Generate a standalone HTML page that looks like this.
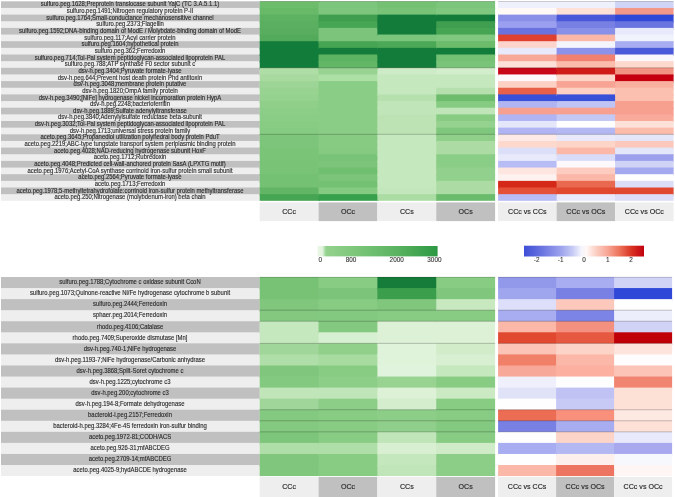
<!DOCTYPE html><html><head><meta charset="utf-8"><style>html,body{margin:0;padding:0;background:#fff;width:675px;height:497px;overflow:hidden}svg{display:block}text{font-family:"Liberation Sans",sans-serif}</style></head><body>
<svg width="675" height="497" viewBox="0 0 675 497">
<defs><filter id="tb" filterUnits="userSpaceOnUse" x="0" y="0" width="675" height="497"><feGaussianBlur stdDeviation="0.28"/></filter></defs>
<rect x="0" y="0" width="675" height="497" fill="#fff"/>
<rect x="1.0" y="1.30" width="258.80" height="8.15" fill="#c0c0c0"/>
<rect x="1.0" y="7.95" width="258.80" height="8.15" fill="#eeeeee"/>
<rect x="1.0" y="14.60" width="258.80" height="8.15" fill="#c0c0c0"/>
<rect x="1.0" y="21.25" width="258.80" height="8.15" fill="#eeeeee"/>
<rect x="1.0" y="27.90" width="258.80" height="8.15" fill="#c0c0c0"/>
<rect x="1.0" y="34.55" width="258.80" height="8.15" fill="#eeeeee"/>
<rect x="1.0" y="41.20" width="258.80" height="8.15" fill="#c0c0c0"/>
<rect x="1.0" y="47.85" width="258.80" height="8.15" fill="#eeeeee"/>
<rect x="1.0" y="54.50" width="258.80" height="8.15" fill="#c0c0c0"/>
<rect x="1.0" y="61.15" width="258.80" height="8.15" fill="#eeeeee"/>
<rect x="1.0" y="67.80" width="258.80" height="8.15" fill="#c0c0c0"/>
<rect x="1.0" y="74.45" width="258.80" height="8.15" fill="#eeeeee"/>
<rect x="1.0" y="81.10" width="258.80" height="8.15" fill="#c0c0c0"/>
<rect x="1.0" y="87.75" width="258.80" height="8.15" fill="#eeeeee"/>
<rect x="1.0" y="94.40" width="258.80" height="8.15" fill="#c0c0c0"/>
<rect x="1.0" y="101.05" width="258.80" height="8.15" fill="#eeeeee"/>
<rect x="1.0" y="107.70" width="258.80" height="8.15" fill="#c0c0c0"/>
<rect x="1.0" y="114.35" width="258.80" height="8.15" fill="#eeeeee"/>
<rect x="1.0" y="121.00" width="258.80" height="8.15" fill="#c0c0c0"/>
<rect x="1.0" y="127.65" width="258.80" height="8.15" fill="#eeeeee"/>
<rect x="1.0" y="134.30" width="258.80" height="8.15" fill="#c0c0c0"/>
<rect x="1.0" y="140.95" width="258.80" height="8.15" fill="#eeeeee"/>
<rect x="1.0" y="147.60" width="258.80" height="8.15" fill="#c0c0c0"/>
<rect x="1.0" y="154.25" width="258.80" height="8.15" fill="#eeeeee"/>
<rect x="1.0" y="160.90" width="258.80" height="8.15" fill="#c0c0c0"/>
<rect x="1.0" y="167.55" width="258.80" height="8.15" fill="#eeeeee"/>
<rect x="1.0" y="174.20" width="258.80" height="8.15" fill="#c0c0c0"/>
<rect x="1.0" y="180.85" width="258.80" height="8.15" fill="#eeeeee"/>
<rect x="1.0" y="187.50" width="258.80" height="8.15" fill="#c0c0c0"/>
<rect x="1.0" y="194.15" width="258.80" height="6.65" fill="#eeeeee"/>
<g filter="url(#tb)">
<text transform="translate(130.0 6.40) scale(1 1.08)" x="0" y="0" font-size="5.93" fill="#2a2a2a" stroke="#2a2a2a" stroke-width="0.12" text-anchor="middle">sulfuro.peg.1628;Preprotein translocase subunit YajC (TC 3.A.5.1.1)</text>
<text transform="translate(130.0 13.05) scale(1 1.08)" x="0" y="0" font-size="5.93" fill="#2a2a2a" stroke="#2a2a2a" stroke-width="0.12" text-anchor="middle">sulfuro.peg.1491;Nitrogen regulatory protein P-II</text>
<text transform="translate(130.0 19.70) scale(1 1.08)" x="0" y="0" font-size="5.93" fill="#2a2a2a" stroke="#2a2a2a" stroke-width="0.12" text-anchor="middle">sulfuro.peg.1764;Small-conductance mechanosensitive channel</text>
<text transform="translate(130.0 26.35) scale(1 1.08)" x="0" y="0" font-size="5.93" fill="#2a2a2a" stroke="#2a2a2a" stroke-width="0.12" text-anchor="middle">sulfuro.peg.2373;Flagellin</text>
<text transform="translate(130.0 33.00) scale(1 1.08)" x="0" y="0" font-size="5.93" fill="#2a2a2a" stroke="#2a2a2a" stroke-width="0.12" text-anchor="middle">sulfuro.peg.1592;DNA-binding domain of ModE / Molybdate-binding domain of ModE</text>
<text transform="translate(130.0 39.65) scale(1 1.08)" x="0" y="0" font-size="5.93" fill="#2a2a2a" stroke="#2a2a2a" stroke-width="0.12" text-anchor="middle">sulfuro.peg.117;Acyl carrier protein</text>
<text transform="translate(130.0 46.30) scale(1 1.08)" x="0" y="0" font-size="5.93" fill="#2a2a2a" stroke="#2a2a2a" stroke-width="0.12" text-anchor="middle">sulfuro.peg.1604;hypothetical protein</text>
<text transform="translate(130.0 52.95) scale(1 1.08)" x="0" y="0" font-size="5.93" fill="#2a2a2a" stroke="#2a2a2a" stroke-width="0.12" text-anchor="middle">sulfuro.peg.362;Ferredoxin</text>
<text transform="translate(130.0 59.60) scale(1 1.08)" x="0" y="0" font-size="5.93" fill="#2a2a2a" stroke="#2a2a2a" stroke-width="0.12" text-anchor="middle">sulfuro.peg.714;Tol-Pal system peptidoglycan-associated lipoprotein PAL</text>
<text transform="translate(130.0 66.25) scale(1 1.08)" x="0" y="0" font-size="5.93" fill="#2a2a2a" stroke="#2a2a2a" stroke-width="0.12" text-anchor="middle">sulfuro.peg.788;ATP synthase F0 sector subunit c</text>
<text transform="translate(130.0 72.90) scale(1 1.08)" x="0" y="0" font-size="5.93" fill="#2a2a2a" stroke="#2a2a2a" stroke-width="0.12" text-anchor="middle">dsv-h.peg.3404;Pyruvate formate-lyase</text>
<text transform="translate(130.0 79.55) scale(1 1.08)" x="0" y="0" font-size="5.93" fill="#2a2a2a" stroke="#2a2a2a" stroke-width="0.12" text-anchor="middle">dsv-h.peg.644;Prevent host death protein Phd antitoxin</text>
<text transform="translate(130.0 86.20) scale(1 1.08)" x="0" y="0" font-size="5.93" fill="#2a2a2a" stroke="#2a2a2a" stroke-width="0.12" text-anchor="middle">dsv-h.peg.3048;membrane protein putative</text>
<text transform="translate(130.0 92.85) scale(1 1.08)" x="0" y="0" font-size="5.93" fill="#2a2a2a" stroke="#2a2a2a" stroke-width="0.12" text-anchor="middle">dsv-h.peg.1820;OmpA family protein</text>
<text transform="translate(130.0 99.50) scale(1 1.08)" x="0" y="0" font-size="5.93" fill="#2a2a2a" stroke="#2a2a2a" stroke-width="0.12" text-anchor="middle">dsv-h.peg.3490;[NiFe] hydrogenase nickel incorporation protein HypA</text>
<text transform="translate(130.0 106.15) scale(1 1.08)" x="0" y="0" font-size="5.93" fill="#2a2a2a" stroke="#2a2a2a" stroke-width="0.12" text-anchor="middle">dsv-h.peg.2248;bacterioferritin</text>
<text transform="translate(130.0 112.80) scale(1 1.08)" x="0" y="0" font-size="5.93" fill="#2a2a2a" stroke="#2a2a2a" stroke-width="0.12" text-anchor="middle">dsv-h.peg.1889;Sulfate adenylyltransferase</text>
<text transform="translate(130.0 119.45) scale(1 1.08)" x="0" y="0" font-size="5.93" fill="#2a2a2a" stroke="#2a2a2a" stroke-width="0.12" text-anchor="middle">dsv-h.peg.3840;Adenylylsulfate reductase beta-subunit</text>
<text transform="translate(130.0 126.10) scale(1 1.08)" x="0" y="0" font-size="5.93" fill="#2a2a2a" stroke="#2a2a2a" stroke-width="0.12" text-anchor="middle">dsv-h.peg.3032;Tol-Pal system peptidoglycan-associated lipoprotein PAL</text>
<text transform="translate(130.0 132.75) scale(1 1.08)" x="0" y="0" font-size="5.93" fill="#2a2a2a" stroke="#2a2a2a" stroke-width="0.12" text-anchor="middle">dsv-h.peg.1713;universal stress protein family</text>
<text transform="translate(130.0 139.40) scale(1 1.08)" x="0" y="0" font-size="5.93" fill="#2a2a2a" stroke="#2a2a2a" stroke-width="0.12" text-anchor="middle">aceto.peg.3645;Propanediol utilization polyhedral body protein PduT</text>
<text transform="translate(130.0 146.05) scale(1 1.08)" x="0" y="0" font-size="5.93" fill="#2a2a2a" stroke="#2a2a2a" stroke-width="0.12" text-anchor="middle">aceto.peg.2219;ABC-type tungstate transport system periplasmic binding protein</text>
<text transform="translate(130.0 152.70) scale(1 1.08)" x="0" y="0" font-size="5.93" fill="#2a2a2a" stroke="#2a2a2a" stroke-width="0.12" text-anchor="middle">aceto.peg.4028;NAD-reducing hydrogenase subunit HoxF</text>
<text transform="translate(130.0 159.35) scale(1 1.08)" x="0" y="0" font-size="5.93" fill="#2a2a2a" stroke="#2a2a2a" stroke-width="0.12" text-anchor="middle">aceto.peg.1712;Rubredoxin</text>
<text transform="translate(130.0 166.00) scale(1 1.08)" x="0" y="0" font-size="5.93" fill="#2a2a2a" stroke="#2a2a2a" stroke-width="0.12" text-anchor="middle">aceto.peg.4048;Predicted cell-wall-anchored protein SasA (LPXTG motif)</text>
<text transform="translate(130.0 172.65) scale(1 1.08)" x="0" y="0" font-size="5.93" fill="#2a2a2a" stroke="#2a2a2a" stroke-width="0.12" text-anchor="middle">aceto.peg.1976;Acetyl-CoA synthase corrinoid iron-sulfur protein small subunit</text>
<text transform="translate(130.0 179.30) scale(1 1.08)" x="0" y="0" font-size="5.93" fill="#2a2a2a" stroke="#2a2a2a" stroke-width="0.12" text-anchor="middle">aceto.peg.2564;Pyruvate formate-lyase</text>
<text transform="translate(130.0 185.95) scale(1 1.08)" x="0" y="0" font-size="5.93" fill="#2a2a2a" stroke="#2a2a2a" stroke-width="0.12" text-anchor="middle">aceto.peg.1713;Ferredoxin</text>
<text transform="translate(130.0 192.60) scale(1 1.08)" x="0" y="0" font-size="5.93" fill="#2a2a2a" stroke="#2a2a2a" stroke-width="0.12" text-anchor="middle">aceto.peg.1978;5-methyltetrahydrofolate:corrinoid iron-sulfur protein methyltransferase</text>
<text transform="translate(130.0 199.25) scale(1 1.08)" x="0" y="0" font-size="5.93" fill="#2a2a2a" stroke="#2a2a2a" stroke-width="0.12" text-anchor="middle">aceto.peg.250;Nitrogenase (molybdenum-iron) beta chain</text>
</g>
<rect x="259.70" y="1.30" width="60.35" height="8.15" fill="#6cbc6c"/>
<rect x="259.70" y="7.95" width="60.35" height="8.15" fill="#68ba69"/>
<rect x="259.70" y="14.60" width="60.35" height="8.15" fill="#5cb261"/>
<rect x="259.70" y="21.25" width="60.35" height="8.15" fill="#5ab060"/>
<rect x="259.70" y="27.90" width="60.35" height="8.15" fill="#58ae5e"/>
<rect x="259.70" y="34.55" width="60.35" height="8.15" fill="#52aa5a"/>
<rect x="259.70" y="41.20" width="60.35" height="8.15" fill="#127d3b"/>
<rect x="259.70" y="47.85" width="60.35" height="8.15" fill="#127d3b"/>
<rect x="259.70" y="54.50" width="60.35" height="8.15" fill="#127d3b"/>
<rect x="259.70" y="61.15" width="60.35" height="8.15" fill="#127d3b"/>
<rect x="259.70" y="67.80" width="60.35" height="8.15" fill="#aedda6"/>
<rect x="259.70" y="74.45" width="60.35" height="8.15" fill="#a8daa0"/>
<rect x="259.70" y="81.10" width="60.35" height="8.15" fill="#9dd596"/>
<rect x="259.70" y="87.75" width="60.35" height="8.15" fill="#98d391"/>
<rect x="259.70" y="94.40" width="60.35" height="8.15" fill="#96d28f"/>
<rect x="259.70" y="101.05" width="60.35" height="8.15" fill="#8fcf8a"/>
<rect x="259.70" y="107.70" width="60.35" height="8.15" fill="#8ccd87"/>
<rect x="259.70" y="114.35" width="60.35" height="8.15" fill="#8acd86"/>
<rect x="259.70" y="121.00" width="60.35" height="8.15" fill="#88cc84"/>
<rect x="259.70" y="127.65" width="60.35" height="8.15" fill="#86cb82"/>
<rect x="259.70" y="134.30" width="60.35" height="8.15" fill="#7cc57a"/>
<rect x="259.70" y="140.95" width="60.35" height="8.15" fill="#7cc57a"/>
<rect x="259.70" y="147.60" width="60.35" height="8.15" fill="#7ac478"/>
<rect x="259.70" y="154.25" width="60.35" height="8.15" fill="#7ac478"/>
<rect x="259.70" y="160.90" width="60.35" height="8.15" fill="#78c376"/>
<rect x="259.70" y="167.55" width="60.35" height="8.15" fill="#78c376"/>
<rect x="259.70" y="174.20" width="60.35" height="8.15" fill="#74c173"/>
<rect x="259.70" y="180.85" width="60.35" height="8.15" fill="#74c173"/>
<rect x="259.70" y="187.50" width="60.35" height="8.15" fill="#62b565"/>
<rect x="259.70" y="194.15" width="60.35" height="6.65" fill="#45a552"/>
<rect x="318.55" y="1.30" width="60.35" height="8.15" fill="#7cc57c"/>
<rect x="318.55" y="7.95" width="60.35" height="8.15" fill="#7ec67e"/>
<rect x="318.55" y="14.60" width="60.35" height="8.15" fill="#3e9d4e"/>
<rect x="318.55" y="21.25" width="60.35" height="8.15" fill="#46a653"/>
<rect x="318.55" y="27.90" width="60.35" height="8.15" fill="#7cc47c"/>
<rect x="318.55" y="34.55" width="60.35" height="8.15" fill="#7cc47c"/>
<rect x="318.55" y="41.20" width="60.35" height="8.15" fill="#46a553"/>
<rect x="318.55" y="47.85" width="60.35" height="8.15" fill="#137c3a"/>
<rect x="318.55" y="54.50" width="60.35" height="8.15" fill="#5cb362"/>
<rect x="318.55" y="61.15" width="60.35" height="8.15" fill="#62b666"/>
<rect x="318.55" y="67.80" width="60.35" height="8.15" fill="#98d392"/>
<rect x="318.55" y="74.45" width="60.35" height="8.15" fill="#ade0a5"/>
<rect x="318.55" y="81.10" width="60.35" height="8.15" fill="#8acd86"/>
<rect x="318.55" y="87.75" width="60.35" height="8.15" fill="#8acd86"/>
<rect x="318.55" y="94.40" width="60.35" height="8.15" fill="#8acd86"/>
<rect x="318.55" y="101.05" width="60.35" height="8.15" fill="#8acd86"/>
<rect x="318.55" y="107.70" width="60.35" height="8.15" fill="#8acd86"/>
<rect x="318.55" y="114.35" width="60.35" height="8.15" fill="#8acd86"/>
<rect x="318.55" y="121.00" width="60.35" height="8.15" fill="#8acd86"/>
<rect x="318.55" y="127.65" width="60.35" height="8.15" fill="#8acd86"/>
<rect x="318.55" y="134.30" width="60.35" height="8.15" fill="#87cb83"/>
<rect x="318.55" y="140.95" width="60.35" height="8.15" fill="#87cb83"/>
<rect x="318.55" y="147.60" width="60.35" height="8.15" fill="#85ca80"/>
<rect x="318.55" y="154.25" width="60.35" height="8.15" fill="#78c377"/>
<rect x="318.55" y="160.90" width="60.35" height="8.15" fill="#7cc47a"/>
<rect x="318.55" y="167.55" width="60.35" height="8.15" fill="#70bf70"/>
<rect x="318.55" y="174.20" width="60.35" height="8.15" fill="#7cc47a"/>
<rect x="318.55" y="180.85" width="60.35" height="8.15" fill="#74c173"/>
<rect x="318.55" y="187.50" width="60.35" height="8.15" fill="#85ca81"/>
<rect x="318.55" y="194.15" width="60.35" height="6.65" fill="#36a04c"/>
<rect x="377.40" y="1.30" width="60.35" height="8.15" fill="#74c174"/>
<rect x="377.40" y="7.95" width="60.35" height="8.15" fill="#78c378"/>
<rect x="377.40" y="14.60" width="60.35" height="8.15" fill="#137c3a"/>
<rect x="377.40" y="21.25" width="60.35" height="8.15" fill="#137c3a"/>
<rect x="377.40" y="27.90" width="60.35" height="8.15" fill="#137c3a"/>
<rect x="377.40" y="34.55" width="60.35" height="8.15" fill="#7cc57c"/>
<rect x="377.40" y="41.20" width="60.35" height="8.15" fill="#4aa857"/>
<rect x="377.40" y="47.85" width="60.35" height="8.15" fill="#137c3a"/>
<rect x="377.40" y="54.50" width="60.35" height="8.15" fill="#137c3a"/>
<rect x="377.40" y="61.15" width="60.35" height="8.15" fill="#137c3a"/>
<rect x="377.40" y="67.80" width="60.35" height="8.15" fill="#cdebc6"/>
<rect x="377.40" y="74.45" width="60.35" height="8.15" fill="#c6e8bf"/>
<rect x="377.40" y="81.10" width="60.35" height="8.15" fill="#c6e8bf"/>
<rect x="377.40" y="87.75" width="60.35" height="8.15" fill="#c6e8bf"/>
<rect x="377.40" y="94.40" width="60.35" height="8.15" fill="#b6e0ae"/>
<rect x="377.40" y="101.05" width="60.35" height="8.15" fill="#c0e5b9"/>
<rect x="377.40" y="107.70" width="60.35" height="8.15" fill="#c0e5b9"/>
<rect x="377.40" y="114.35" width="60.35" height="8.15" fill="#bde3b5"/>
<rect x="377.40" y="121.00" width="60.35" height="8.15" fill="#bde3b5"/>
<rect x="377.40" y="127.65" width="60.35" height="8.15" fill="#bde3b5"/>
<rect x="377.40" y="134.30" width="60.35" height="8.15" fill="#c6e8bf"/>
<rect x="377.40" y="140.95" width="60.35" height="8.15" fill="#c6e8bf"/>
<rect x="377.40" y="147.60" width="60.35" height="8.15" fill="#c6e8bf"/>
<rect x="377.40" y="154.25" width="60.35" height="8.15" fill="#c6e8bf"/>
<rect x="377.40" y="160.90" width="60.35" height="8.15" fill="#c6e8bf"/>
<rect x="377.40" y="167.55" width="60.35" height="8.15" fill="#c6e8bf"/>
<rect x="377.40" y="174.20" width="60.35" height="8.15" fill="#c6e8bf"/>
<rect x="377.40" y="180.85" width="60.35" height="8.15" fill="#c6e8bf"/>
<rect x="377.40" y="187.50" width="60.35" height="8.15" fill="#c3e6bc"/>
<rect x="377.40" y="194.15" width="60.35" height="6.65" fill="#abdca3"/>
<rect x="436.25" y="1.30" width="58.85" height="8.15" fill="#7cc57c"/>
<rect x="436.25" y="7.95" width="58.85" height="8.15" fill="#80c880"/>
<rect x="436.25" y="14.60" width="58.85" height="8.15" fill="#137c3a"/>
<rect x="436.25" y="21.25" width="58.85" height="8.15" fill="#3f9e4f"/>
<rect x="436.25" y="27.90" width="58.85" height="8.15" fill="#46a553"/>
<rect x="436.25" y="34.55" width="58.85" height="8.15" fill="#80c880"/>
<rect x="436.25" y="41.20" width="58.85" height="8.15" fill="#6cbc6c"/>
<rect x="436.25" y="47.85" width="58.85" height="8.15" fill="#127c3a"/>
<rect x="436.25" y="54.50" width="58.85" height="8.15" fill="#74c174"/>
<rect x="436.25" y="61.15" width="58.85" height="8.15" fill="#7ac47a"/>
<rect x="436.25" y="67.80" width="58.85" height="8.15" fill="#d3eecc"/>
<rect x="436.25" y="74.45" width="58.85" height="8.15" fill="#c6e8bf"/>
<rect x="436.25" y="81.10" width="58.85" height="8.15" fill="#c6e8bf"/>
<rect x="436.25" y="87.75" width="58.85" height="8.15" fill="#b5dfad"/>
<rect x="436.25" y="94.40" width="58.85" height="8.15" fill="#6dbc6d"/>
<rect x="436.25" y="101.05" width="58.85" height="8.15" fill="#85cb81"/>
<rect x="436.25" y="107.70" width="58.85" height="8.15" fill="#bfe5b8"/>
<rect x="436.25" y="114.35" width="58.85" height="8.15" fill="#88cc84"/>
<rect x="436.25" y="121.00" width="58.85" height="8.15" fill="#95d28f"/>
<rect x="436.25" y="127.65" width="58.85" height="8.15" fill="#7fc77c"/>
<rect x="436.25" y="134.30" width="58.85" height="8.15" fill="#8fcf8a"/>
<rect x="436.25" y="140.95" width="58.85" height="8.15" fill="#acdca4"/>
<rect x="436.25" y="147.60" width="58.85" height="8.15" fill="#acdca4"/>
<rect x="436.25" y="154.25" width="58.85" height="8.15" fill="#8acd86"/>
<rect x="436.25" y="160.90" width="58.85" height="8.15" fill="#8acd86"/>
<rect x="436.25" y="167.55" width="58.85" height="8.15" fill="#92d08d"/>
<rect x="436.25" y="174.20" width="58.85" height="8.15" fill="#92d08d"/>
<rect x="436.25" y="180.85" width="58.85" height="8.15" fill="#acdca4"/>
<rect x="436.25" y="187.50" width="58.85" height="8.15" fill="#acdca4"/>
<rect x="436.25" y="194.15" width="58.85" height="6.65" fill="#6abb6b"/>
<rect x="498.10" y="1.30" width="60.00" height="8.15" fill="#eef0fc"/>
<rect x="498.10" y="7.95" width="60.00" height="8.15" fill="#fffaf5"/>
<rect x="498.10" y="14.60" width="60.00" height="8.15" fill="#8a90e8"/>
<rect x="498.10" y="21.25" width="60.00" height="8.15" fill="#9a9ff0"/>
<rect x="498.10" y="27.90" width="60.00" height="8.15" fill="#6a72e0"/>
<rect x="498.10" y="34.55" width="60.00" height="8.15" fill="#e04030"/>
<rect x="498.10" y="41.20" width="60.00" height="8.15" fill="#fcd4cc"/>
<rect x="498.10" y="47.85" width="60.00" height="8.15" fill="#e8eafc"/>
<rect x="498.10" y="54.50" width="60.00" height="8.15" fill="#f8a898"/>
<rect x="498.10" y="61.15" width="60.00" height="8.15" fill="#fde0d8"/>
<rect x="498.10" y="67.80" width="60.00" height="8.15" fill="#c80818"/>
<rect x="498.10" y="74.45" width="60.00" height="8.15" fill="#fcf8fb"/>
<rect x="498.10" y="81.10" width="60.00" height="8.15" fill="#fdd0c4"/>
<rect x="498.10" y="87.75" width="60.00" height="8.15" fill="#e86048"/>
<rect x="498.10" y="94.40" width="60.00" height="8.15" fill="#3850d8"/>
<rect x="498.10" y="101.05" width="60.00" height="8.15" fill="#b0b4f0"/>
<rect x="498.10" y="107.70" width="60.00" height="8.15" fill="#f8a090"/>
<rect x="498.10" y="114.35" width="60.00" height="8.15" fill="#b0b4f2"/>
<rect x="498.10" y="121.00" width="60.00" height="8.15" fill="#e4e6fa"/>
<rect x="498.10" y="127.65" width="60.00" height="8.15" fill="#b0b4f2"/>
<rect x="498.10" y="134.30" width="60.00" height="8.15" fill="#fdeae6"/>
<rect x="498.10" y="140.95" width="60.00" height="8.15" fill="#fdd8cc"/>
<rect x="498.10" y="147.60" width="60.00" height="8.15" fill="#dcdff8"/>
<rect x="498.10" y="154.25" width="60.00" height="8.15" fill="#e8eafc"/>
<rect x="498.10" y="160.90" width="60.00" height="8.15" fill="#b8bcf4"/>
<rect x="498.10" y="167.55" width="60.00" height="8.15" fill="#fde6e0"/>
<rect x="498.10" y="174.20" width="60.00" height="8.15" fill="#fef2f0"/>
<rect x="498.10" y="180.85" width="60.00" height="8.15" fill="#d42818"/>
<rect x="498.10" y="187.50" width="60.00" height="8.15" fill="#e45038"/>
<rect x="498.10" y="194.15" width="60.00" height="6.65" fill="#b8bcf4"/>
<rect x="556.60" y="1.30" width="60.00" height="8.15" fill="#eef0fc"/>
<rect x="556.60" y="7.95" width="60.00" height="8.15" fill="#fde0d6"/>
<rect x="556.60" y="14.60" width="60.00" height="8.15" fill="#4858d8"/>
<rect x="556.60" y="21.25" width="60.00" height="8.15" fill="#7880e4"/>
<rect x="556.60" y="27.90" width="60.00" height="8.15" fill="#8890e8"/>
<rect x="556.60" y="34.55" width="60.00" height="8.15" fill="#fbb8a8"/>
<rect x="556.60" y="41.20" width="60.00" height="8.15" fill="#f4f4fc"/>
<rect x="556.60" y="47.85" width="60.00" height="8.15" fill="#8c92ea"/>
<rect x="556.60" y="54.50" width="60.00" height="8.15" fill="#f08070"/>
<rect x="556.60" y="61.15" width="60.00" height="8.15" fill="#fbbcac"/>
<rect x="556.60" y="67.80" width="60.00" height="8.15" fill="#d01c18"/>
<rect x="556.60" y="74.45" width="60.00" height="8.15" fill="#fdd4c8"/>
<rect x="556.60" y="81.10" width="60.00" height="8.15" fill="#f8a494"/>
<rect x="556.60" y="87.75" width="60.00" height="8.15" fill="#fdd0c4"/>
<rect x="556.60" y="94.40" width="60.00" height="8.15" fill="#3850d8"/>
<rect x="556.60" y="101.05" width="60.00" height="8.15" fill="#c0c4f4"/>
<rect x="556.60" y="107.70" width="60.00" height="8.15" fill="#f8a090"/>
<rect x="556.60" y="114.35" width="60.00" height="8.15" fill="#c4c8f4"/>
<rect x="556.60" y="121.00" width="60.00" height="8.15" fill="#fefefe"/>
<rect x="556.60" y="127.65" width="60.00" height="8.15" fill="#b4b8f2"/>
<rect x="556.60" y="134.30" width="60.00" height="8.15" fill="#e8eafc"/>
<rect x="556.60" y="140.95" width="60.00" height="8.15" fill="#fdd4c8"/>
<rect x="556.60" y="147.60" width="60.00" height="8.15" fill="#fbb8a8"/>
<rect x="556.60" y="154.25" width="60.00" height="8.15" fill="#d8dcf8"/>
<rect x="556.60" y="160.90" width="60.00" height="8.15" fill="#fcf8fb"/>
<rect x="556.60" y="167.55" width="60.00" height="8.15" fill="#fdccc0"/>
<rect x="556.60" y="174.20" width="60.00" height="8.15" fill="#fbb8a8"/>
<rect x="556.60" y="180.85" width="60.00" height="8.15" fill="#e86850"/>
<rect x="556.60" y="187.50" width="60.00" height="8.15" fill="#e04830"/>
<rect x="556.60" y="194.15" width="60.00" height="6.65" fill="#e8eafc"/>
<rect x="615.10" y="1.30" width="58.50" height="8.15" fill="#d0d4f6"/>
<rect x="615.10" y="7.95" width="58.50" height="8.15" fill="#f39888"/>
<rect x="615.10" y="14.60" width="58.50" height="8.15" fill="#3048d8"/>
<rect x="615.10" y="21.25" width="58.50" height="8.15" fill="#6a74e0"/>
<rect x="615.10" y="27.90" width="58.50" height="8.15" fill="#e8eafc"/>
<rect x="615.10" y="34.55" width="58.50" height="8.15" fill="#f0f2fc"/>
<rect x="615.10" y="41.20" width="58.50" height="8.15" fill="#a8acf0"/>
<rect x="615.10" y="47.85" width="58.50" height="8.15" fill="#4a5ad8"/>
<rect x="615.10" y="54.50" width="58.50" height="8.15" fill="#fbf8fc"/>
<rect x="615.10" y="61.15" width="58.50" height="8.15" fill="#fdd8cc"/>
<rect x="615.10" y="67.80" width="58.50" height="8.15" fill="#f29484"/>
<rect x="615.10" y="74.45" width="58.50" height="8.15" fill="#c40010"/>
<rect x="615.10" y="81.10" width="58.50" height="8.15" fill="#fab0a0"/>
<rect x="615.10" y="87.75" width="58.50" height="8.15" fill="#fbc0b0"/>
<rect x="615.10" y="94.40" width="58.50" height="8.15" fill="#fbc0b0"/>
<rect x="615.10" y="101.05" width="58.50" height="8.15" fill="#f8a090"/>
<rect x="615.10" y="107.70" width="58.50" height="8.15" fill="#f8a090"/>
<rect x="615.10" y="114.35" width="58.50" height="8.15" fill="#faaa9a"/>
<rect x="615.10" y="121.00" width="58.50" height="8.15" fill="#fde0d8"/>
<rect x="615.10" y="127.65" width="58.50" height="8.15" fill="#fbbcac"/>
<rect x="615.10" y="134.30" width="58.50" height="8.15" fill="#e4e6fa"/>
<rect x="615.10" y="140.95" width="58.50" height="8.15" fill="#fcc8bc"/>
<rect x="615.10" y="147.60" width="58.50" height="8.15" fill="#e4e6fa"/>
<rect x="615.10" y="154.25" width="58.50" height="8.15" fill="#9ca0ec"/>
<rect x="615.10" y="160.90" width="58.50" height="8.15" fill="#d0d2f6"/>
<rect x="615.10" y="167.55" width="58.50" height="8.15" fill="#a4a8ee"/>
<rect x="615.10" y="174.20" width="58.50" height="8.15" fill="#fefefe"/>
<rect x="615.10" y="180.85" width="58.50" height="8.15" fill="#dcdef8"/>
<rect x="615.10" y="187.50" width="58.50" height="8.15" fill="#e04830"/>
<rect x="615.10" y="194.15" width="58.50" height="6.65" fill="#dcdef8"/>
<rect x="259.70" y="67.30" width="235.40" height="1" fill="#000" fill-opacity="0.22"/>
<rect x="498.10" y="67.30" width="175.50" height="1" fill="#000" fill-opacity="0.22"/>
<rect x="259.70" y="133.80" width="235.40" height="1" fill="#000" fill-opacity="0.22"/>
<rect x="498.10" y="133.80" width="175.50" height="1" fill="#000" fill-opacity="0.22"/>
<rect x="259.70" y="1.10" width="235.40" height="0.8" fill="#000" fill-opacity="0.22"/>
<rect x="498.10" y="1.10" width="175.50" height="0.8" fill="#000" fill-opacity="0.22"/>
<rect x="259.70" y="202.40" width="58.85" height="18.70" fill="#eeeeee"/>
<text filter="url(#tb)" x="289.12" y="214.05" font-size="7.1" fill="#2a2a2a" stroke="#2a2a2a" stroke-width="0.15" text-anchor="middle">CCc</text>
<rect x="318.55" y="202.40" width="58.85" height="18.70" fill="#c0c0c0"/>
<text filter="url(#tb)" x="347.98" y="214.05" font-size="7.1" fill="#2a2a2a" stroke="#2a2a2a" stroke-width="0.15" text-anchor="middle">OCc</text>
<rect x="377.40" y="202.40" width="58.85" height="18.70" fill="#eeeeee"/>
<text filter="url(#tb)" x="406.82" y="214.05" font-size="7.1" fill="#2a2a2a" stroke="#2a2a2a" stroke-width="0.15" text-anchor="middle">CCs</text>
<rect x="436.25" y="202.40" width="58.85" height="18.70" fill="#c0c0c0"/>
<text filter="url(#tb)" x="465.68" y="214.05" font-size="7.1" fill="#2a2a2a" stroke="#2a2a2a" stroke-width="0.15" text-anchor="middle">OCs</text>
<rect x="498.10" y="202.40" width="58.50" height="18.70" fill="#eeeeee"/>
<text filter="url(#tb)" x="527.35" y="214.05" font-size="7.1" fill="#2a2a2a" stroke="#2a2a2a" stroke-width="0.15" text-anchor="middle">CCc vs CCs</text>
<rect x="556.60" y="202.40" width="58.50" height="18.70" fill="#c0c0c0"/>
<text filter="url(#tb)" x="585.85" y="214.05" font-size="7.1" fill="#2a2a2a" stroke="#2a2a2a" stroke-width="0.15" text-anchor="middle">CCc vs OCs</text>
<rect x="615.10" y="202.40" width="58.50" height="18.70" fill="#eeeeee"/>
<text filter="url(#tb)" x="644.35" y="214.05" font-size="7.1" fill="#2a2a2a" stroke="#2a2a2a" stroke-width="0.15" text-anchor="middle">CCc vs OCc</text>
<rect x="1.0" y="277.00" width="258.80" height="12.56" fill="#c0c0c0"/>
<rect x="1.0" y="288.06" width="258.80" height="12.56" fill="#eeeeee"/>
<rect x="1.0" y="299.12" width="258.80" height="12.56" fill="#c0c0c0"/>
<rect x="1.0" y="310.18" width="258.80" height="12.56" fill="#eeeeee"/>
<rect x="1.0" y="321.24" width="258.80" height="12.56" fill="#c0c0c0"/>
<rect x="1.0" y="332.30" width="258.80" height="12.56" fill="#eeeeee"/>
<rect x="1.0" y="343.36" width="258.80" height="12.56" fill="#c0c0c0"/>
<rect x="1.0" y="354.42" width="258.80" height="12.56" fill="#eeeeee"/>
<rect x="1.0" y="365.48" width="258.80" height="12.56" fill="#c0c0c0"/>
<rect x="1.0" y="376.54" width="258.80" height="12.56" fill="#eeeeee"/>
<rect x="1.0" y="387.60" width="258.80" height="12.56" fill="#c0c0c0"/>
<rect x="1.0" y="398.66" width="258.80" height="12.56" fill="#eeeeee"/>
<rect x="1.0" y="409.72" width="258.80" height="12.56" fill="#c0c0c0"/>
<rect x="1.0" y="420.78" width="258.80" height="12.56" fill="#eeeeee"/>
<rect x="1.0" y="431.84" width="258.80" height="12.56" fill="#c0c0c0"/>
<rect x="1.0" y="442.90" width="258.80" height="12.56" fill="#eeeeee"/>
<rect x="1.0" y="453.96" width="258.80" height="12.56" fill="#c0c0c0"/>
<rect x="1.0" y="465.02" width="258.80" height="11.06" fill="#eeeeee"/>
<g filter="url(#tb)">
<text transform="translate(130.0 284.31) scale(1 1.08)" x="0" y="0" font-size="5.93" fill="#2a2a2a" stroke="#2a2a2a" stroke-width="0.12" text-anchor="middle">sulfuro.peg.1788;Cytochrome c oxidase subunit CcoN</text>
<text transform="translate(130.0 295.37) scale(1 1.08)" x="0" y="0" font-size="5.93" fill="#2a2a2a" stroke="#2a2a2a" stroke-width="0.12" text-anchor="middle">sulfuro.peg.1073;Quinone-reactive Ni/Fe hydrogenase cytochrome b subunit</text>
<text transform="translate(130.0 306.43) scale(1 1.08)" x="0" y="0" font-size="5.93" fill="#2a2a2a" stroke="#2a2a2a" stroke-width="0.12" text-anchor="middle">sulfuro.peg.2444;Ferredoxin</text>
<text transform="translate(130.0 317.49) scale(1 1.08)" x="0" y="0" font-size="5.93" fill="#2a2a2a" stroke="#2a2a2a" stroke-width="0.12" text-anchor="middle">sphaer.peg.2014;Ferredoxin</text>
<text transform="translate(130.0 328.55) scale(1 1.08)" x="0" y="0" font-size="5.93" fill="#2a2a2a" stroke="#2a2a2a" stroke-width="0.12" text-anchor="middle">rhodo.peg.4106;Catalase</text>
<text transform="translate(130.0 339.61) scale(1 1.08)" x="0" y="0" font-size="5.93" fill="#2a2a2a" stroke="#2a2a2a" stroke-width="0.12" text-anchor="middle">rhodo.peg.7409;Superoxide dismutase [Mn]</text>
<text transform="translate(130.0 350.67) scale(1 1.08)" x="0" y="0" font-size="5.93" fill="#2a2a2a" stroke="#2a2a2a" stroke-width="0.12" text-anchor="middle">dsv-h.peg.740-1;NiFe hydrogenase</text>
<text transform="translate(130.0 361.73) scale(1 1.08)" x="0" y="0" font-size="5.93" fill="#2a2a2a" stroke="#2a2a2a" stroke-width="0.12" text-anchor="middle">dsv-h.peg.1193-7;NiFe hydrogenase/Carbonic anhydrase</text>
<text transform="translate(130.0 372.79) scale(1 1.08)" x="0" y="0" font-size="5.93" fill="#2a2a2a" stroke="#2a2a2a" stroke-width="0.12" text-anchor="middle">dsv-h.peg.3868;Split-Soret cytochrome c</text>
<text transform="translate(130.0 383.85) scale(1 1.08)" x="0" y="0" font-size="5.93" fill="#2a2a2a" stroke="#2a2a2a" stroke-width="0.12" text-anchor="middle">dsv-h.peg.1225;cytochrome c3</text>
<text transform="translate(130.0 394.91) scale(1 1.08)" x="0" y="0" font-size="5.93" fill="#2a2a2a" stroke="#2a2a2a" stroke-width="0.12" text-anchor="middle">dsv-h.peg.200;cytochrome c3</text>
<text transform="translate(130.0 405.97) scale(1 1.08)" x="0" y="0" font-size="5.93" fill="#2a2a2a" stroke="#2a2a2a" stroke-width="0.12" text-anchor="middle">dsv-h.peg.194-8;Formate dehydrogenase</text>
<text transform="translate(130.0 417.03) scale(1 1.08)" x="0" y="0" font-size="5.93" fill="#2a2a2a" stroke="#2a2a2a" stroke-width="0.12" text-anchor="middle">bacteroid-l.peg.2157;Ferredoxin</text>
<text transform="translate(130.0 428.09) scale(1 1.08)" x="0" y="0" font-size="5.93" fill="#2a2a2a" stroke="#2a2a2a" stroke-width="0.12" text-anchor="middle">bacteroid-h.peg.3284;4Fe-4S ferredoxin iron-sulfur binding</text>
<text transform="translate(130.0 439.15) scale(1 1.08)" x="0" y="0" font-size="5.93" fill="#2a2a2a" stroke="#2a2a2a" stroke-width="0.12" text-anchor="middle">aceto.peg.1972-81;CODH/ACS</text>
<text transform="translate(130.0 450.21) scale(1 1.08)" x="0" y="0" font-size="5.93" fill="#2a2a2a" stroke="#2a2a2a" stroke-width="0.12" text-anchor="middle">aceto.peg.926-31;mfABCDEG</text>
<text transform="translate(130.0 461.27) scale(1 1.08)" x="0" y="0" font-size="5.93" fill="#2a2a2a" stroke="#2a2a2a" stroke-width="0.12" text-anchor="middle">aceto.peg.2709-14;mfABCDEG</text>
<text transform="translate(130.0 472.33) scale(1 1.08)" x="0" y="0" font-size="5.93" fill="#2a2a2a" stroke="#2a2a2a" stroke-width="0.12" text-anchor="middle">aceto.peg.4025-9;hydABCDE hydrogenase</text>
</g>
<rect x="259.70" y="277.00" width="60.35" height="12.56" fill="#78c276"/>
<rect x="259.70" y="288.06" width="60.35" height="12.56" fill="#78c276"/>
<rect x="259.70" y="299.12" width="60.35" height="12.56" fill="#80c67d"/>
<rect x="259.70" y="310.18" width="60.35" height="12.56" fill="#84c880"/>
<rect x="259.70" y="321.24" width="60.35" height="12.56" fill="#c6e8bf"/>
<rect x="259.70" y="332.30" width="60.35" height="12.56" fill="#c6e8bf"/>
<rect x="259.70" y="343.36" width="60.35" height="12.56" fill="#a0d699"/>
<rect x="259.70" y="354.42" width="60.35" height="12.56" fill="#b0dea8"/>
<rect x="259.70" y="365.48" width="60.35" height="12.56" fill="#80c77d"/>
<rect x="259.70" y="376.54" width="60.35" height="12.56" fill="#84c980"/>
<rect x="259.70" y="387.60" width="60.35" height="12.56" fill="#c0e5b8"/>
<rect x="259.70" y="398.66" width="60.35" height="12.56" fill="#a0d699"/>
<rect x="259.70" y="409.72" width="60.35" height="12.56" fill="#84c980"/>
<rect x="259.70" y="420.78" width="60.35" height="12.56" fill="#84c980"/>
<rect x="259.70" y="431.84" width="60.35" height="12.56" fill="#7cc57a"/>
<rect x="259.70" y="442.90" width="60.35" height="12.56" fill="#b0dea8"/>
<rect x="259.70" y="453.96" width="60.35" height="12.56" fill="#80c67d"/>
<rect x="259.70" y="465.02" width="60.35" height="11.06" fill="#80c67d"/>
<rect x="318.55" y="277.00" width="60.35" height="12.56" fill="#88cc84"/>
<rect x="318.55" y="288.06" width="60.35" height="12.56" fill="#7cc47a"/>
<rect x="318.55" y="299.12" width="60.35" height="12.56" fill="#88cc84"/>
<rect x="318.55" y="310.18" width="60.35" height="12.56" fill="#84c980"/>
<rect x="318.55" y="321.24" width="60.35" height="12.56" fill="#84c980"/>
<rect x="318.55" y="332.30" width="60.35" height="12.56" fill="#d8f0d2"/>
<rect x="318.55" y="343.36" width="60.35" height="12.56" fill="#90d08b"/>
<rect x="318.55" y="354.42" width="60.35" height="12.56" fill="#a8dba0"/>
<rect x="318.55" y="365.48" width="60.35" height="12.56" fill="#88cc84"/>
<rect x="318.55" y="376.54" width="60.35" height="12.56" fill="#8ccd87"/>
<rect x="318.55" y="387.60" width="60.35" height="12.56" fill="#c0e5b8"/>
<rect x="318.55" y="398.66" width="60.35" height="12.56" fill="#8ccd87"/>
<rect x="318.55" y="409.72" width="60.35" height="12.56" fill="#88cc84"/>
<rect x="318.55" y="420.78" width="60.35" height="12.56" fill="#88cc84"/>
<rect x="318.55" y="431.84" width="60.35" height="12.56" fill="#88cc84"/>
<rect x="318.55" y="442.90" width="60.35" height="12.56" fill="#b0dea8"/>
<rect x="318.55" y="453.96" width="60.35" height="12.56" fill="#88cc84"/>
<rect x="318.55" y="465.02" width="60.35" height="11.06" fill="#88cc84"/>
<rect x="377.40" y="277.00" width="60.35" height="12.56" fill="#167c3a"/>
<rect x="377.40" y="288.06" width="60.35" height="12.56" fill="#3a9e4c"/>
<rect x="377.40" y="299.12" width="60.35" height="12.56" fill="#80c67d"/>
<rect x="377.40" y="310.18" width="60.35" height="12.56" fill="#88cc84"/>
<rect x="377.40" y="321.24" width="60.35" height="12.56" fill="#dcf1d6"/>
<rect x="377.40" y="332.30" width="60.35" height="12.56" fill="#dcf1d6"/>
<rect x="377.40" y="343.36" width="60.35" height="12.56" fill="#dff2da"/>
<rect x="377.40" y="354.42" width="60.35" height="12.56" fill="#dff2da"/>
<rect x="377.40" y="365.48" width="60.35" height="12.56" fill="#e0f3dc"/>
<rect x="377.40" y="376.54" width="60.35" height="12.56" fill="#98d392"/>
<rect x="377.40" y="387.60" width="60.35" height="12.56" fill="#dcf1d6"/>
<rect x="377.40" y="398.66" width="60.35" height="12.56" fill="#d4edcd"/>
<rect x="377.40" y="409.72" width="60.35" height="12.56" fill="#8ccd87"/>
<rect x="377.40" y="420.78" width="60.35" height="12.56" fill="#90cf8b"/>
<rect x="377.40" y="431.84" width="60.35" height="12.56" fill="#c0e5b8"/>
<rect x="377.40" y="442.90" width="60.35" height="12.56" fill="#d8efd2"/>
<rect x="377.40" y="453.96" width="60.35" height="12.56" fill="#c4e7bd"/>
<rect x="377.40" y="465.02" width="60.35" height="11.06" fill="#c0e5b8"/>
<rect x="436.25" y="277.00" width="58.85" height="12.56" fill="#88cc84"/>
<rect x="436.25" y="288.06" width="58.85" height="12.56" fill="#80c77d"/>
<rect x="436.25" y="299.12" width="58.85" height="12.56" fill="#c8e8c0"/>
<rect x="436.25" y="310.18" width="58.85" height="12.56" fill="#88cc84"/>
<rect x="436.25" y="321.24" width="58.85" height="12.56" fill="#dcf1d6"/>
<rect x="436.25" y="332.30" width="58.85" height="12.56" fill="#dcf1d6"/>
<rect x="436.25" y="343.36" width="58.85" height="12.56" fill="#d2ecca"/>
<rect x="436.25" y="354.42" width="58.85" height="12.56" fill="#d8efd2"/>
<rect x="436.25" y="365.48" width="58.85" height="12.56" fill="#c6e8bf"/>
<rect x="436.25" y="376.54" width="58.85" height="12.56" fill="#88cc84"/>
<rect x="436.25" y="387.60" width="58.85" height="12.56" fill="#cbeac4"/>
<rect x="436.25" y="398.66" width="58.85" height="12.56" fill="#88cc84"/>
<rect x="436.25" y="409.72" width="58.85" height="12.56" fill="#88cc84"/>
<rect x="436.25" y="420.78" width="58.85" height="12.56" fill="#84c980"/>
<rect x="436.25" y="431.84" width="58.85" height="12.56" fill="#88cc84"/>
<rect x="436.25" y="442.90" width="58.85" height="12.56" fill="#d0ebc8"/>
<rect x="436.25" y="453.96" width="58.85" height="12.56" fill="#8ccd87"/>
<rect x="436.25" y="465.02" width="58.85" height="11.06" fill="#8ccd87"/>
<rect x="498.10" y="277.00" width="59.50" height="12.56" fill="#9298ea"/>
<rect x="498.10" y="288.06" width="59.50" height="12.56" fill="#a0a6ee"/>
<rect x="498.10" y="299.12" width="59.50" height="12.56" fill="#dcdefa"/>
<rect x="498.10" y="310.18" width="59.50" height="12.56" fill="#a8acf0"/>
<rect x="498.10" y="321.24" width="59.50" height="12.56" fill="#fbb8a8"/>
<rect x="498.10" y="332.30" width="59.50" height="12.56" fill="#e04830"/>
<rect x="498.10" y="343.36" width="59.50" height="12.56" fill="#fcc4b6"/>
<rect x="498.10" y="354.42" width="59.50" height="12.56" fill="#f08068"/>
<rect x="498.10" y="365.48" width="59.50" height="12.56" fill="#f8a898"/>
<rect x="498.10" y="376.54" width="59.50" height="12.56" fill="#f0f0fc"/>
<rect x="498.10" y="387.60" width="59.50" height="12.56" fill="#e0e2f8"/>
<rect x="498.10" y="398.66" width="59.50" height="12.56" fill="#fefefe"/>
<rect x="498.10" y="409.72" width="59.50" height="12.56" fill="#ec6c54"/>
<rect x="498.10" y="420.78" width="59.50" height="12.56" fill="#7880e4"/>
<rect x="498.10" y="431.84" width="59.50" height="12.56" fill="#fefefe"/>
<rect x="498.10" y="442.90" width="59.50" height="12.56" fill="#a8acf0"/>
<rect x="498.10" y="453.96" width="59.50" height="12.56" fill="#fefefe"/>
<rect x="498.10" y="465.02" width="59.50" height="11.06" fill="#fbb8a8"/>
<rect x="556.10" y="277.00" width="59.50" height="12.56" fill="#a8acf0"/>
<rect x="556.10" y="288.06" width="59.50" height="12.56" fill="#7880e4"/>
<rect x="556.10" y="299.12" width="59.50" height="12.56" fill="#fcc8bc"/>
<rect x="556.10" y="310.18" width="59.50" height="12.56" fill="#7c84e6"/>
<rect x="556.10" y="321.24" width="59.50" height="12.56" fill="#f49080"/>
<rect x="556.10" y="332.30" width="59.50" height="12.56" fill="#e65840"/>
<rect x="556.10" y="343.36" width="59.50" height="12.56" fill="#fdd4c8"/>
<rect x="556.10" y="354.42" width="59.50" height="12.56" fill="#fbb8a8"/>
<rect x="556.10" y="365.48" width="59.50" height="12.56" fill="#fbb0a0"/>
<rect x="556.10" y="376.54" width="59.50" height="12.56" fill="#fefefe"/>
<rect x="556.10" y="387.60" width="59.50" height="12.56" fill="#c0c2f4"/>
<rect x="556.10" y="398.66" width="59.50" height="12.56" fill="#c8caf6"/>
<rect x="556.10" y="409.72" width="59.50" height="12.56" fill="#f8907c"/>
<rect x="556.10" y="420.78" width="59.50" height="12.56" fill="#a8acf0"/>
<rect x="556.10" y="431.84" width="59.50" height="12.56" fill="#fdd4c8"/>
<rect x="556.10" y="442.90" width="59.50" height="12.56" fill="#b4b8f2"/>
<rect x="556.10" y="453.96" width="59.50" height="12.56" fill="#fdf0ec"/>
<rect x="556.10" y="465.02" width="59.50" height="11.06" fill="#ec7460"/>
<rect x="614.10" y="277.00" width="58.00" height="12.56" fill="#d0d2f6"/>
<rect x="614.10" y="288.06" width="58.00" height="12.56" fill="#3048d8"/>
<rect x="614.10" y="299.12" width="58.00" height="12.56" fill="#fefefe"/>
<rect x="614.10" y="310.18" width="58.00" height="12.56" fill="#eceefc"/>
<rect x="614.10" y="321.24" width="58.00" height="12.56" fill="#d0d2f6"/>
<rect x="614.10" y="332.30" width="58.00" height="12.56" fill="#c00008"/>
<rect x="614.10" y="343.36" width="58.00" height="12.56" fill="#fde4dc"/>
<rect x="614.10" y="354.42" width="58.00" height="12.56" fill="#fefcfc"/>
<rect x="614.10" y="365.48" width="58.00" height="12.56" fill="#fcc4b6"/>
<rect x="614.10" y="376.54" width="58.00" height="12.56" fill="#f08470"/>
<rect x="614.10" y="387.60" width="58.00" height="12.56" fill="#fde0d6"/>
<rect x="614.10" y="398.66" width="58.00" height="12.56" fill="#fde0d6"/>
<rect x="614.10" y="409.72" width="58.00" height="12.56" fill="#fde8e2"/>
<rect x="614.10" y="420.78" width="58.00" height="12.56" fill="#fde0d6"/>
<rect x="614.10" y="431.84" width="58.00" height="12.56" fill="#e8eafc"/>
<rect x="614.10" y="442.90" width="58.00" height="12.56" fill="#a8a8ee"/>
<rect x="614.10" y="453.96" width="58.00" height="12.56" fill="#f6f8fd"/>
<rect x="614.10" y="465.02" width="58.00" height="11.06" fill="#fdf6f4"/>
<rect x="259.70" y="309.68" width="235.40" height="1" fill="#000" fill-opacity="0.22"/>
<rect x="498.10" y="309.68" width="174.00" height="1" fill="#000" fill-opacity="0.22"/>
<rect x="259.70" y="320.74" width="235.40" height="1" fill="#000" fill-opacity="0.22"/>
<rect x="498.10" y="320.74" width="174.00" height="1" fill="#000" fill-opacity="0.22"/>
<rect x="259.70" y="342.86" width="235.40" height="1" fill="#000" fill-opacity="0.22"/>
<rect x="498.10" y="342.86" width="174.00" height="1" fill="#000" fill-opacity="0.22"/>
<rect x="259.70" y="409.22" width="235.40" height="1" fill="#000" fill-opacity="0.22"/>
<rect x="498.10" y="409.22" width="174.00" height="1" fill="#000" fill-opacity="0.22"/>
<rect x="259.70" y="420.28" width="235.40" height="1" fill="#000" fill-opacity="0.22"/>
<rect x="498.10" y="420.28" width="174.00" height="1" fill="#000" fill-opacity="0.22"/>
<rect x="259.70" y="431.34" width="235.40" height="1" fill="#000" fill-opacity="0.22"/>
<rect x="498.10" y="431.34" width="174.00" height="1" fill="#000" fill-opacity="0.22"/>
<rect x="259.70" y="276.80" width="235.40" height="0.8" fill="#000" fill-opacity="0.22"/>
<rect x="498.10" y="276.80" width="174.00" height="0.8" fill="#000" fill-opacity="0.22"/>
<rect x="259.70" y="477.00" width="58.85" height="20.00" fill="#eeeeee"/>
<text filter="url(#tb)" x="289.12" y="489.30" font-size="7.1" fill="#2a2a2a" stroke="#2a2a2a" stroke-width="0.15" text-anchor="middle">CCc</text>
<rect x="318.55" y="477.00" width="58.85" height="20.00" fill="#c0c0c0"/>
<text filter="url(#tb)" x="347.98" y="489.30" font-size="7.1" fill="#2a2a2a" stroke="#2a2a2a" stroke-width="0.15" text-anchor="middle">OCc</text>
<rect x="377.40" y="477.00" width="58.85" height="20.00" fill="#eeeeee"/>
<text filter="url(#tb)" x="406.82" y="489.30" font-size="7.1" fill="#2a2a2a" stroke="#2a2a2a" stroke-width="0.15" text-anchor="middle">CCs</text>
<rect x="436.25" y="477.00" width="58.85" height="20.00" fill="#c0c0c0"/>
<text filter="url(#tb)" x="465.68" y="489.30" font-size="7.1" fill="#2a2a2a" stroke="#2a2a2a" stroke-width="0.15" text-anchor="middle">OCs</text>
<rect x="498.10" y="477.00" width="58.00" height="20.00" fill="#eeeeee"/>
<text filter="url(#tb)" x="527.10" y="489.30" font-size="7.1" fill="#2a2a2a" stroke="#2a2a2a" stroke-width="0.15" text-anchor="middle">CCc vs CCs</text>
<rect x="556.10" y="477.00" width="58.00" height="20.00" fill="#c0c0c0"/>
<text filter="url(#tb)" x="585.10" y="489.30" font-size="7.1" fill="#2a2a2a" stroke="#2a2a2a" stroke-width="0.15" text-anchor="middle">CCc vs OCs</text>
<rect x="614.10" y="477.00" width="58.00" height="20.00" fill="#eeeeee"/>
<text filter="url(#tb)" x="643.10" y="489.30" font-size="7.1" fill="#2a2a2a" stroke="#2a2a2a" stroke-width="0.15" text-anchor="middle">CCc vs OCc</text>
<defs><linearGradient id="lg" x1="0" x2="1" y1="0" y2="0"><stop offset="0" stop-color="#eaf6e6"/><stop offset="0.04" stop-color="#e2f3de"/><stop offset="0.07" stop-color="#94d18e"/><stop offset="0.28" stop-color="#80c87c"/><stop offset="0.66" stop-color="#5ab360"/><stop offset="1" stop-color="#2c9843"/></linearGradient><linearGradient id="lr" x1="0" x2="1" y1="0" y2="0"><stop offset="0" stop-color="#3f4fd6"/><stop offset="0.1" stop-color="#5a66dc"/><stop offset="0.2" stop-color="#7a82e4"/><stop offset="0.3" stop-color="#9aa0ec"/><stop offset="0.4" stop-color="#c4c8f4"/><stop offset="0.48" stop-color="#f6f6fd"/><stop offset="0.52" stop-color="#fff8f6"/><stop offset="0.6" stop-color="#fcd0c4"/><stop offset="0.7" stop-color="#f8a494"/><stop offset="0.8" stop-color="#ec7058"/><stop offset="0.9" stop-color="#d83020"/><stop offset="1" stop-color="#c00010"/></linearGradient></defs>
<rect x="317.6" y="246" width="120" height="10.4" fill="url(#lg)"/>
<rect x="524.0" y="245.7" width="120" height="10.8" fill="url(#lr)"/>
<text x="320.4" y="262.0" font-size="6.4" fill="#333" stroke="#333" stroke-width="0.1" filter="url(#tb)" text-anchor="middle">0</text>
<text x="351.1" y="262.0" font-size="6.4" fill="#333" stroke="#333" stroke-width="0.1" filter="url(#tb)" text-anchor="middle">800</text>
<text x="396.7" y="262.0" font-size="6.4" fill="#333" stroke="#333" stroke-width="0.1" filter="url(#tb)" text-anchor="middle">2000</text>
<text x="434.4" y="262.0" font-size="6.4" fill="#333" stroke="#333" stroke-width="0.1" filter="url(#tb)" text-anchor="middle">3000</text>
<text x="536.7" y="262.0" font-size="6.4" fill="#333" stroke="#333" stroke-width="0.1" filter="url(#tb)" text-anchor="middle">-2</text>
<text x="560.7" y="262.0" font-size="6.4" fill="#333" stroke="#333" stroke-width="0.1" filter="url(#tb)" text-anchor="middle">-1</text>
<text x="584.0" y="262.0" font-size="6.4" fill="#333" stroke="#333" stroke-width="0.1" filter="url(#tb)" text-anchor="middle">0</text>
<text x="607.8" y="262.0" font-size="6.4" fill="#333" stroke="#333" stroke-width="0.1" filter="url(#tb)" text-anchor="middle">1</text>
<text x="631.0" y="262.0" font-size="6.4" fill="#333" stroke="#333" stroke-width="0.1" filter="url(#tb)" text-anchor="middle">2</text>
</svg></body></html>
